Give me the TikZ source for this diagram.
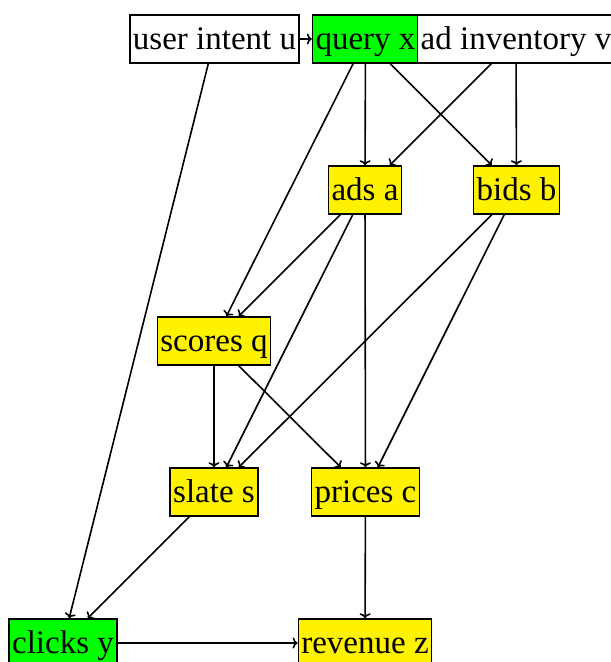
\documentclass[tikz,border=0pt]{standalone}
\usepackage{fontspec}
\setmainfont{Liberation Serif}
\usetikzlibrary{arrows.meta}
\definecolor{nodegreen}{RGB}{0,255,0}
\definecolor{nodeyellow}{RGB}{255,242,0}
\begin{document}
\begin{tikzpicture}[x=1pt,y=-1pt,
  box/.style={draw=black, line width=1.5pt, inner xsep=3pt, inner ysep=2pt,
    minimum height=48pt, text height=24pt, text depth=4pt,
    font=\fontsize{33}{40}\selectfont},
  obs/.style={box, fill=white},
  grn/.style={box, fill=nodegreen},
  ylw/.style={box, fill=nodeyellow},
  edge/.style={-{To[length=5pt,width=11pt]}, line width=1.6pt, black}]
\useasboundingbox (0,0) rectangle (611,662);
\clip (0,0) rectangle (611,662);
\node[obs] (u) at (214.5,39) {user intent u};
\node[grn] (x) at (365.5,39) {query x};
\node[obs, minimum width=196pt] (v) at (516,39) {ad inventory v};
\node[ylw] (a) at (365,190) {ads a};
\node[ylw] (b) at (516.5,190) {bids b};
\node[ylw] (q) at (214,341) {scores q};
\node[ylw] (s) at (214,492) {slate s};
\node[ylw] (c) at (365.5,492) {prices c};
\node[grn] (y) at (63,643) {clicks y};
\node[ylw] (z) at (365,643) {revenue z};
\draw[edge] (u) -- (x);
\draw[edge] (u) -- (y);
\draw[edge] (x) -- (q);
\draw[edge] (x) -- (a);
\draw[edge] (x) -- (b);
\draw[edge] (v) -- (a);
\draw[edge] (v) -- (b);
\draw[edge] (a) -- (q);
\draw[edge] (a) -- (s);
\draw[edge] (a) -- (c);
\draw[edge] (b) -- (s);
\draw[edge] (b) -- (c);
\draw[edge] (q) -- (s);
\draw[edge] (q) -- (c);
\draw[edge] (s) -- (y);
\draw[edge] (c) -- (z);
\draw[edge] (y) -- (z);
\end{tikzpicture}
\end{document}
